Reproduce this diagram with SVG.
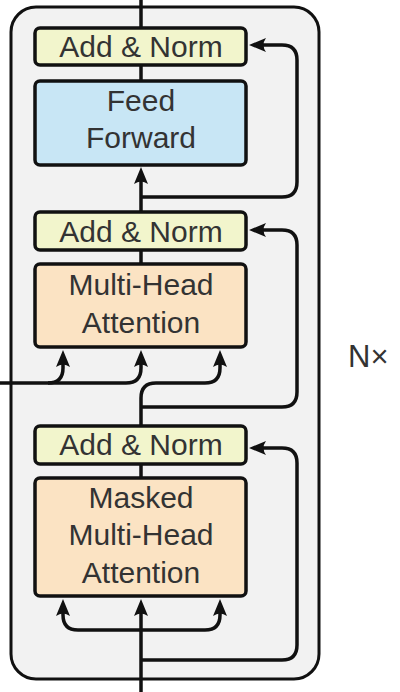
<svg xmlns="http://www.w3.org/2000/svg" width="400" height="692" viewBox="0 0 400 692">
<defs>
<style>
.box{stroke:#111;stroke-width:3.5}
.an{fill:#f2f5cc}
.ff{fill:#c8e6f5}
.att{fill:#fbe3c3}
.lbl{font-family:"Liberation Sans",Arial,sans-serif;font-size:30px;fill:#333;text-anchor:middle}
.c{fill:none;stroke:#111;stroke-width:3.5}
</style>
<marker id="ah" markerUnits="userSpaceOnUse" markerWidth="22" markerHeight="20" viewBox="-2 -10 22 20" refX="11" refY="0" orient="auto">
<path d="M17,0 L0,-7 Q5,0 0,7 Z" fill="#111"/>
</marker>
</defs>
<rect x="11" y="7" width="308" height="672" rx="25" fill="#f2f2f2" stroke="#111" stroke-width="3"/>
<g id="connectors">
<path class="c" d="M141,0 V28"/>
<path class="c" d="M141,65 V81"/>
<path class="c" d="M141,212 V173" marker-end="url(#ah)"/>
<path class="c" d="M141,197 H282 Q297,197 297,182 V60 Q297,45 282,45 H255" marker-end="url(#ah)"/>
<path class="c" d="M141,250 V264"/>
<path class="c" d="M141,407 H282 Q297,407 297,392 V245 Q297,230 282,230 H255" marker-end="url(#ah)"/>
<path class="c" d="M0,383 H48 Q63,383 63,368 V356" marker-end="url(#ah)"/>
<path class="c" d="M48,383 H126 Q141,383 141,368 V356" marker-end="url(#ah)"/>
<path class="c" d="M141,426 V398 Q141,383 156,383 H205 Q220,383 220,368 V356" marker-end="url(#ah)"/>
<path class="c" d="M141,464 V478"/>
<path class="c" d="M141,660 H282 Q297,660 297,645 V463 Q297,448 282,448 H255" marker-end="url(#ah)"/>
<path class="c" d="M141,692 V605" marker-end="url(#ah)"/>
<path class="c" d="M141,630 H78 Q63,630 63,615 V605" marker-end="url(#ah)"/>
<path class="c" d="M141,630 H205 Q220,630 220,615 V605" marker-end="url(#ah)"/>
</g>
<g id="addnorm-top">
<rect class="box an" x="35" y="28" width="211" height="37" rx="5"/>
<text class="lbl" x="141" y="57">Add &amp; Norm</text>
</g>
<g id="feed-forward">
<rect class="box ff" x="35" y="81" width="211" height="84" rx="5"/>
<text class="lbl" x="141" y="111">Feed</text>
<text class="lbl" x="141" y="148">Forward</text>
</g>
<g id="addnorm-mid">
<rect class="box an" x="35" y="212" width="211" height="38" rx="5"/>
<text class="lbl" x="141" y="242">Add &amp; Norm</text>
</g>
<g id="multi-head-attention">
<rect class="box att" x="35" y="264" width="211" height="83" rx="5"/>
<text class="lbl" x="141" y="295">Multi-Head</text>
<text class="lbl" x="141" y="333">Attention</text>
</g>
<g id="addnorm-bottom">
<rect class="box an" x="35" y="426" width="211" height="38" rx="5"/>
<text class="lbl" x="141" y="455">Add &amp; Norm</text>
</g>
<g id="masked-multi-head-attention">
<rect class="box att" x="35" y="478" width="211" height="118" rx="5"/>
<text class="lbl" x="141" y="508">Masked</text>
<text class="lbl" x="141" y="545">Multi-Head</text>
<text class="lbl" x="141" y="583">Attention</text>
</g>
<g id="nx-label">
<text x="348" y="367" style="font-family:'Liberation Sans',Arial,sans-serif;font-size:31px;fill:#333">N×</text>
</g>
</svg>
